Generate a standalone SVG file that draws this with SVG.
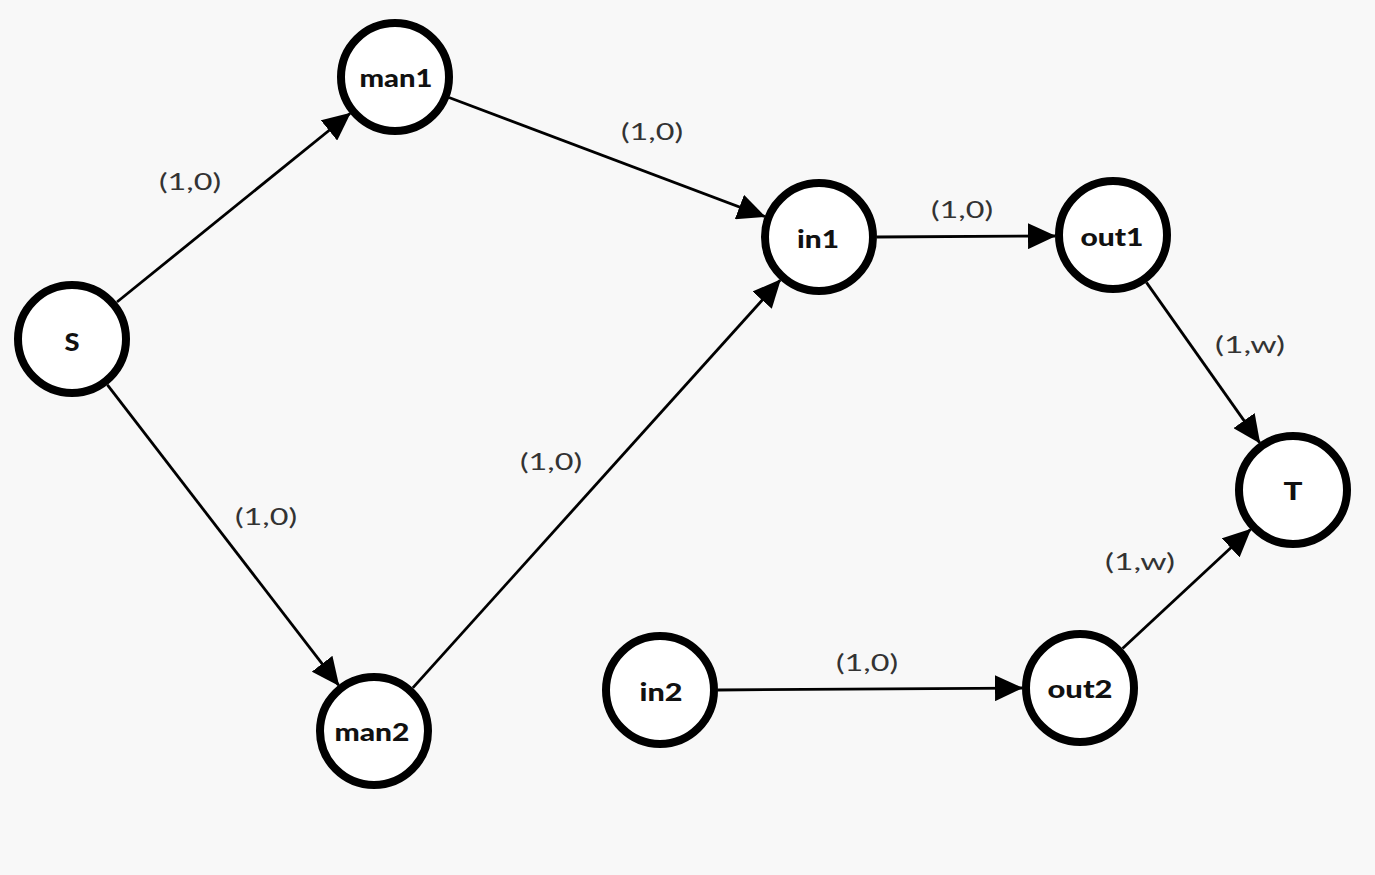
<svg xmlns="http://www.w3.org/2000/svg" width="1375" height="875" viewBox="0 0 1375 875">
<style>
.node circle{fill:#fff;stroke:#000;stroke-width:8}
.node text{font-family:Lato,"Liberation Sans",sans-serif;font-weight:900;font-size:25px;fill:#111;text-anchor:middle;dominant-baseline:central}
.edge line{stroke:#000;stroke-width:2.8;marker-end:url(#arr)}
.lbl{font-family:Lato,"Liberation Sans",sans-serif;font-size:24px;fill:#333;text-anchor:middle;dominant-baseline:central}
</style>
<defs>
<marker id="arr" markerUnits="userSpaceOnUse" viewBox="0 0 28 26" markerWidth="28" markerHeight="26" refX="27" refY="13" orient="auto">
<path d="M0,0 L28,13 L0,26 z" fill="#000"/>
</marker>
</defs>
<rect width="1375" height="875" fill="#f8f8f8"/>
<g id="connectors" class="edge">
<line x1="117" y1="302" x2="350" y2="113.5"/>
<line x1="449" y1="97.5" x2="764.7" y2="216.5"/>
<line x1="877" y1="237" x2="1055" y2="236"/>
<line x1="1146.4" y1="282.4" x2="1259.6" y2="442.6"/>
<line x1="107.4" y1="384.9" x2="338.6" y2="685.1"/>
<line x1="412.8" y1="687.9" x2="780.2" y2="280.1"/>
<line x1="718" y1="690" x2="1022" y2="688"/>
<line x1="1122.5" y1="648.5" x2="1250.5" y2="529.5"/>
</g>
<g id="edge-labels">
<text class="lbl" x="190" y="180" textLength="62" lengthAdjust="spacingAndGlyphs">(1,0)</text>
<text class="lbl" x="652" y="130" textLength="62" lengthAdjust="spacingAndGlyphs">(1,0)</text>
<text class="lbl" x="962" y="208" textLength="62" lengthAdjust="spacingAndGlyphs">(1,0)</text>
<text class="lbl" x="1250" y="343" textLength="70" lengthAdjust="spacingAndGlyphs">(1,w)</text>
<text class="lbl" x="266" y="515" textLength="62" lengthAdjust="spacingAndGlyphs">(1,0)</text>
<text class="lbl" x="551" y="460" textLength="62" lengthAdjust="spacingAndGlyphs">(1,0)</text>
<text class="lbl" x="867" y="661" textLength="62" lengthAdjust="spacingAndGlyphs">(1,0)</text>
<text class="lbl" x="1140" y="560" textLength="70" lengthAdjust="spacingAndGlyphs">(1,w)</text>
</g>
<g id="S" class="node"><circle cx="72" cy="339" r="54"/><text x="72" y="341" textLength="15" lengthAdjust="spacingAndGlyphs">S</text></g>
<g id="man1" class="node"><circle cx="395" cy="77" r="54"/><text x="396" y="77" textLength="73" lengthAdjust="spacingAndGlyphs">man1</text></g>
<g id="man2" class="node"><circle cx="374" cy="731" r="54"/><text x="372" y="731" textLength="75" lengthAdjust="spacingAndGlyphs">man2</text></g>
<g id="in1" class="node"><circle cx="819" cy="237" r="54"/><text x="818" y="238" textLength="42" lengthAdjust="spacingAndGlyphs">in1</text></g>
<g id="out1" class="node"><circle cx="1113" cy="235" r="54"/><text x="1112" y="236" textLength="63" lengthAdjust="spacingAndGlyphs">out1</text></g>
<g id="T" class="node"><circle cx="1293" cy="490" r="54"/><text x="1293" y="490" textLength="19" lengthAdjust="spacingAndGlyphs">T</text></g>
<g id="in2" class="node"><circle cx="660" cy="690" r="54"/><text x="661" y="691" textLength="43" lengthAdjust="spacingAndGlyphs">in2</text></g>
<g id="out2" class="node"><circle cx="1080" cy="688" r="54"/><text x="1080" y="688" textLength="65" lengthAdjust="spacingAndGlyphs">out2</text></g>
</svg>
